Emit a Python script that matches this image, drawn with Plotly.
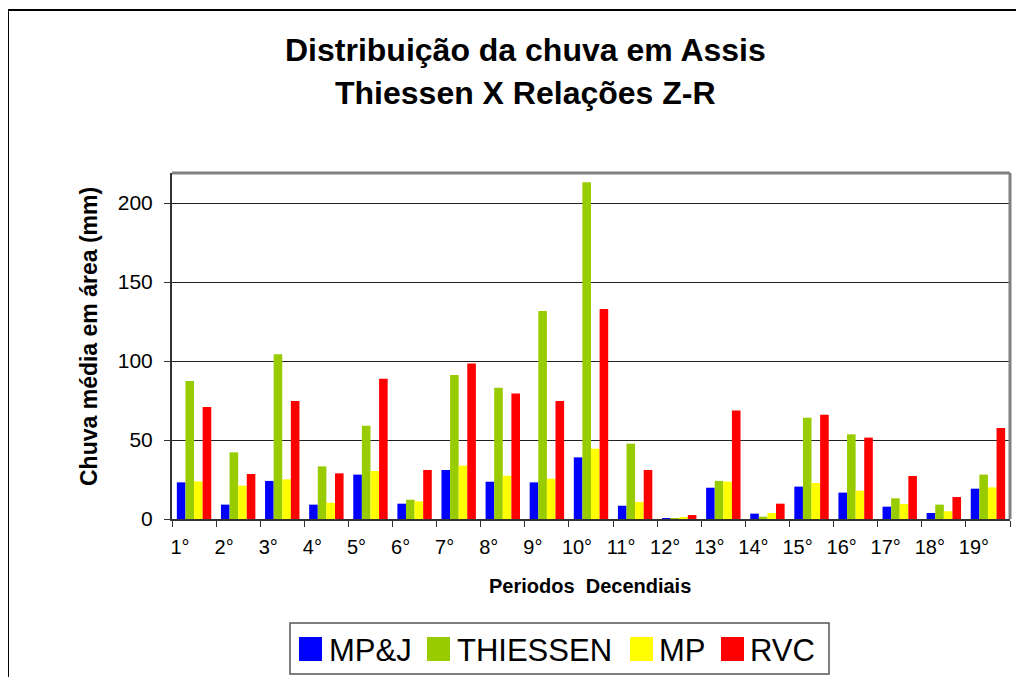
import plotly.graph_objects as go

categories = [f"{i}°" for i in range(1, 20)]
mpj = [23.2, 9.1, 24.1, 9.1, 28.1, 9.7, 31.0, 23.6, 23.2, 39.0, 8.4, 0.6, 19.8, 3.4, 20.5, 16.7, 7.8, 3.8, 19.2]
thiessen = [87.3, 42.2, 104.2, 33.3, 59.1, 12.2, 91.1, 83.1, 131.6, 213.1, 47.7, 0.3, 24.1, 1.5, 64.1, 53.6, 13.1, 9.1, 28.1]
mp = [23.8, 21.1, 25.1, 10.3, 30.4, 11.2, 33.8, 27.4, 25.5, 44.5, 10.8, 1.3, 23.6, 3.8, 22.8, 17.9, 9.5, 4.9, 20.0]
rvc = [70.9, 28.5, 74.7, 28.9, 88.8, 31.0, 98.5, 79.5, 74.7, 132.9, 31.0, 2.5, 68.6, 9.7, 66.0, 51.5, 27.2, 13.9, 57.6]

series_names = ["MP&J", "THIESSEN", "MP", "RVC"]
series_values = [mpj, thiessen, mp, rvc]
series_colors = ["#0000FF", "#99CC00", "#FFFF00", "#FF0000"]

W, H = 1024, 677
OFF = 8  # page body margin of the browser
# plot area in screen pixels: x 172..1010, y 173..519
L, T = 172 - OFF, 173 - OFF
R, B = W - (1010 - OFF), H - (519 - OFF)
PW, PH = W - L - R, H - T - B
FONT = "Liberation Sans, Arial, sans-serif"


def px(x):
    # screen x -> paper x
    return (x - OFF - L) / PW


def py(y):
    # screen y -> paper y
    return (H - B - (y - OFF)) / PH


fig = go.Figure()
for name, vals, col in zip(series_names, series_values, series_colors):
    fig.add_trace(go.Bar(x=categories, y=vals, name=name, marker_color=col,
                         marker_line_width=0, showlegend=False))

fig.update_layout(
    width=W, height=H,
    margin=dict(l=L, r=R, t=T, b=B),
    paper_bgcolor="white", plot_bgcolor="white",
    barmode="group", bargap=0.22, bargroupgap=0,
    font=dict(family=FONT, color="black"),
    showlegend=False,
)
fig.update_xaxes(
    type="category", showgrid=False, showline=True, linecolor="#333333", linewidth=2,
    ticks="outside", ticklen=6, tickcolor="#333333", tickson="boundaries",
    tickfont=dict(size=20, family=FONT), ticklabelshift=-14, ticklabelstandoff=9,
)
fig.update_yaxes(
    range=[0, 219], tickvals=[0, 50, 100, 150, 200], showgrid=True, gridcolor="#222222",
    gridwidth=1, showline=True, linecolor="#333333", linewidth=2, ticks="outside",
    ticklen=6, tickcolor="#333333", tickfont=dict(size=21, family=FONT),
    ticklabelstandoff=7, zeroline=False,
)

shapes = []
# plot area top/right border (gray)
shapes.append(dict(type="line", xref="paper", yref="paper", x0=0, x1=1, y0=1, y1=1,
                   line=dict(color="#808080", width=3)))
shapes.append(dict(type="line", xref="paper", yref="paper", x0=1, x1=1, y0=0, y1=1,
                   line=dict(color="#808080", width=3)))
# outer chart border
shapes.append(dict(type="line", xref="paper", yref="paper", x0=px(8), x1=px(1040), y0=py(10), y1=py(10),
                   line=dict(color="black", width=2)))
shapes.append(dict(type="line", xref="paper", yref="paper", x0=px(8), x1=px(8), y0=py(10), y1=py(720),
                   line=dict(color="black", width=2)))
# legend box
shapes.append(dict(type="rect", xref="paper", yref="paper", x0=px(290), x1=px(829), y0=py(623), y1=py(674),
                   line=dict(color="#555555", width=1.5), fillcolor="white"))

annotations = [
    dict(text="<b>Distribuição da chuva em Assis</b>", x=px(525), y=py(50), xref="paper", yref="paper",
         showarrow=False, font=dict(size=32, family=FONT), xanchor="center", yanchor="middle"),
    dict(text="<b>Thiessen X Relações Z-R</b>", x=px(525), y=py(93), xref="paper", yref="paper",
         showarrow=False, font=dict(size=32, family=FONT), xanchor="center", yanchor="middle"),
    dict(text="<b>Chuva média em área (mm)</b>", x=px(89), y=py(337), xref="paper", yref="paper",
         showarrow=False, textangle=-90, font=dict(size=23, family=FONT), xanchor="center", yanchor="middle"),
    dict(text="<b>Periodos  Decendiais</b>", x=px(590), y=py(586), xref="paper", yref="paper",
         showarrow=False, font=dict(size=20, family=FONT), xanchor="center", yanchor="middle"),
]

leg_sq_x = [299, 427, 630, 721]
leg_txt_x = [327, 455, 657, 748]
for name, col, sx, tx in zip(series_names, series_colors, leg_sq_x, leg_txt_x):
    shapes.append(dict(type="rect", xref="paper", yref="paper", x0=px(sx), x1=px(sx + 23),
                       y0=py(661), y1=py(637), fillcolor=col, line=dict(width=0)))
    annotations.append(dict(text=name, x=px(tx), y=py(650), xref="paper", yref="paper", showarrow=False,
                            xanchor="left", yanchor="middle", font=dict(size=31, family=FONT)))

fig.update_layout(shapes=shapes, annotations=annotations)
fig.write_html("out.html")
